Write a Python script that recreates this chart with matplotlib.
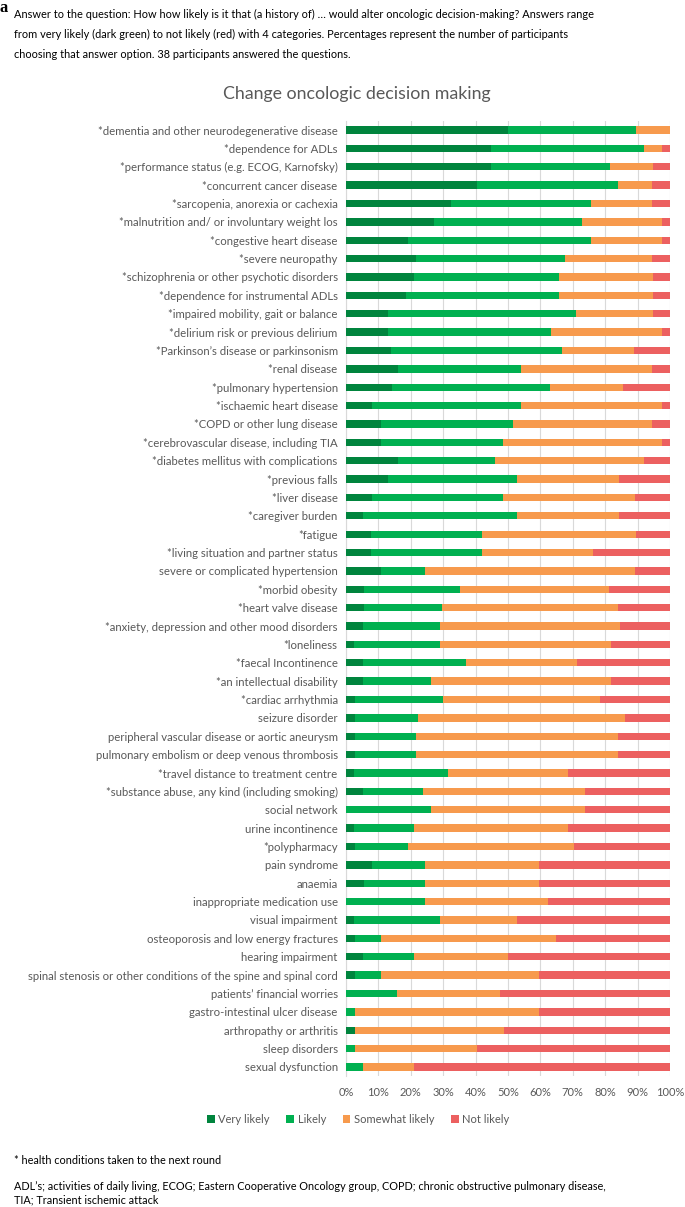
import numpy as np
import matplotlib
matplotlib.use("Agg")
import matplotlib.pyplot as plt

# categories, top to bottom
categories = [
    "*dementia and other neurodegenerative disease",
    "*dependence for ADLs",
    "*performance status (e.g. ECOG, Karnofsky)",
    "*concurrent cancer disease",
    "*sarcopenia, anorexia or cachexia",
    "*malnutrition and/ or involuntary weight los",
    "*congestive heart disease",
    "*severe neuropathy",
    "*schizophrenia or other psychotic disorders",
    "*dependence for instrumental ADLs",
    "*impaired mobility, gait or balance",
    "*delirium risk or previous delirium",
    "*Parkinson\u2019s disease or parkinsonism",
    "*renal disease",
    "*pulmonary hypertension",
    "*ischaemic heart disease",
    "*COPD or other lung disease",
    "*cerebrovascular disease, including TIA",
    "*diabetes mellitus with complications",
    "*previous falls",
    "*liver disease",
    "*caregiver burden",
    "*fatigue",
    "*living situation and partner status",
    "severe or complicated hypertension",
    "*morbid obesity",
    "*heart valve disease",
    "*anxiety, depression and other mood disorders",
    "*loneliness",
    "*faecal Incontinence",
    "*an intellectual disability",
    "*cardiac arrhythmia",
    "seizure disorder",
    "peripheral vascular disease or aortic aneurysm",
    "pulmonary embolism or deep venous thrombosis",
    "*travel distance to treatment centre",
    "*substance abuse, any kind (including smoking)",
    "social network",
    "urine incontinence",
    "*polypharmacy",
    "pain syndrome",
    "anaemia",
    "inappropriate medication use",
    "visual impairment",
    "osteoporosis and low energy fractures",
    "hearing impairment",
    "spinal stenosis or other conditions of the spine and spinal cord",
    "patients\u2019 financial worries",
    "gastro-intestinal ulcer disease",
    "arthropathy or arthritis",
    "sleep disorders",
    "sexual dysfunction",
]

very_likely = [50.0, 44.7, 44.7, 40.4, 32.4, 27.2, 19.0, 21.6, 21.0, 18.4,
               13.1, 13.1, 13.9, 16.0, 14.2, 7.9, 10.8, 10.8, 16.2, 13.1,
               7.9, 5.2, 7.8, 7.8, 10.8, 5.5, 5.5, 5.2, 2.5, 5.2,
               5.2, 2.8, 2.8, 2.8, 2.8, 2.5, 5.2, 0.0, 2.5, 2.8,
               7.9, 5.5, 0.0, 2.5, 2.8, 5.2, 2.8, 0.0, 0.0, 2.8,
               0.0, 0.0]
likely = [39.5, 47.4, 36.9, 43.4, 43.3, 45.6, 56.7, 46.0, 44.7, 47.3,
          58.0, 50.1, 52.7, 38.0, 48.8, 46.1, 40.6, 37.8, 29.8, 39.6,
          40.7, 47.5, 34.3, 34.3, 13.5, 29.7, 24.2, 23.8, 26.5, 31.7,
          21.1, 27.0, 19.4, 18.8, 18.8, 29.1, 18.6, 26.3, 18.5, 16.2,
          16.4, 18.8, 24.3, 26.5, 8.0, 15.8, 8.0, 15.7, 2.8, 0.0,
          2.8, 5.2]
somewhat_likely = [10.5, 5.3, 13.2, 10.7, 18.8, 24.6, 21.7, 26.9, 29.1, 29.1,
                   23.7, 34.2, 22.3, 40.5, 22.6, 43.4, 43.1, 48.8, 46.0, 31.6,
                   40.6, 31.6, 47.4, 34.1, 64.9, 45.9, 54.1, 55.5, 52.8, 34.4,
                   55.5, 48.7, 64.0, 62.4, 62.4, 37.0, 50.1, 47.6, 47.6, 51.4,
                   35.3, 35.3, 38.0, 23.8, 54.0, 29.0, 48.8, 31.7, 56.8, 45.9,
                   37.6, 15.8]
not_likely = [0.0, 2.6, 5.2, 5.5, 5.5, 2.6, 2.6, 5.5, 5.2, 5.2,
              5.2, 2.6, 11.1, 5.5, 14.4, 2.6, 5.5, 2.6, 8.0, 15.7,
              10.8, 15.7, 10.5, 23.8, 10.8, 18.9, 16.2, 15.5, 18.2, 28.7,
              18.2, 21.5, 13.8, 16.0, 16.0, 31.4, 26.1, 26.1, 31.4, 29.6,
              40.4, 40.4, 37.7, 47.2, 35.2, 50.0, 40.4, 52.6, 40.4, 51.3,
              59.6, 79.0]

series_names = ["Very likely", "Likely", "Somewhat likely", "Not likely"]
colors = ["#00843D", "#00B050", "#F79A4D", "#EC6060"]
grey = "#595959"

plt.rcParams['font.family'] = ['Lato', 'DejaVu Sans']

fig = plt.figure(figsize=(6.85, 12.07), dpi=100)
ax = fig.add_axes([0.5051, 0.1084, 0.4730, 0.7915])

y = np.arange(len(categories))
left = np.zeros(len(categories))
for vals, name, c in zip([very_likely, likely, somewhat_likely, not_likely], series_names, colors):
    vals = np.array(vals)
    ax.barh(y, vals, left=left, height=0.4, color=c, label=name, zorder=3)
    left = left + vals

ax.set_ylim(len(categories) - 0.5, -0.5)
ax.set_xlim(0, 100)
ax.set_yticks(y)
ax.set_yticklabels(categories, fontsize=8.2, color=grey)
ax.set_xticks(np.arange(0, 101, 10))
ax.set_xticklabels(["%d%%" % v for v in range(0, 101, 10)], fontsize=8, color=grey)
ax.tick_params(length=0, pad=6)
ax.tick_params(axis='x', pad=8)
ax.grid(axis='x', color='#D9D9D9', linewidth=0.8, zorder=0)
for s in ['top', 'right', 'bottom']:
    ax.spines[s].set_visible(False)
ax.spines['left'].set_color('#D9D9D9')

fig.text(0.521, 0.9225, "Change oncologic decision making", ha='center', va='center',
         fontsize=12.8, color=grey)

handles, labels = ax.get_legend_handles_labels()
fig.legend(handles, labels, loc='center', bbox_to_anchor=(0.523, 0.0729), ncol=4,
           frameon=False, fontsize=8, labelcolor=grey, handlelength=0.7,
           handleheight=0.7, handletextpad=0.3, columnspacing=1.5)

fig.text(0.0, 1.0, "a", ha='left', va='top', fontsize=12, fontweight='bold',
         family='Liberation Serif')
header = ("Answer to the question: How how likely is it that (a history of) \u2026 would alter oncologic decision-making? Answers range\n"
          "from very likely (dark green) to not likely (red) with 4 categories. Percentages represent the number of participants\n"
          "choosing that answer option. 38 participants answered the questions.")
fig.text(0.0204, 1 - 9 / 1207, header, ha='left', va='top', fontsize=7.9,
         linespacing=2.0, color='black')

fig.text(0.0204, 1 - 1161 / 1207, "* health conditions taken to the next round", ha='left',
         va='center', fontsize=7.8, color='black')
fig.text(0.0204, 1 - 1181 / 1207,
         "ADL\u2019s; activities of daily living, ECOG; Eastern Cooperative Oncology group, COPD; chronic obstructive pulmonary disease,\n"
         "TIA; Transient ischemic attack", ha='left', va='top', fontsize=7.8,
         linespacing=1.3, color='black')

fig.savefig("out.png", dpi=100)
